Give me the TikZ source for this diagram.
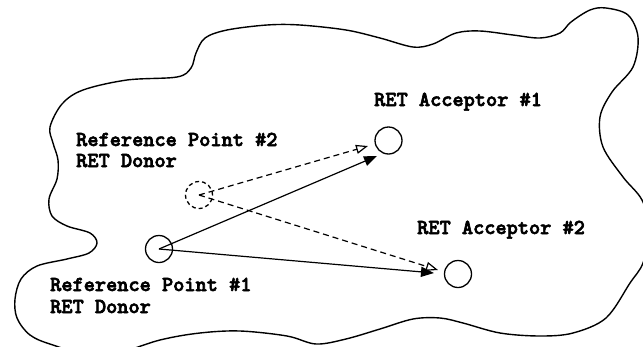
\documentclass[tikz,border=0pt]{standalone}
\usepackage{fontspec}
\newfontfamily\labelfont{lmmonolt10-bold.otf}[FakeBold=3]
\usetikzlibrary{arrows.meta}

\tikzset{
  site/.style={circle, draw, line width=1.3pt, minimum size=27pt, inner sep=0pt},
  ghost/.style={site, dash pattern=on 4pt off 3pt},
  lbl/.style={anchor=base west, inner sep=0pt, font=\labelfont\fontsize{21.3}{22}\selectfont},
  solidarrow/.style={line width=1.2pt, -{Triangle[length=13pt,width=10pt]}},
  dasharrow/.style={line width=1.2pt, dash pattern=on 6pt off 4pt, -{Triangle[open,length=12pt,width=9pt,line width=1.2pt]}},
  outline/.style={line width=1.4pt, line join=round}
}

\begin{document}
\begin{tikzpicture}[x=1pt,y=-1pt]
  \useasboundingbox (0,0) rectangle (643,346);
  \clip (0,0) rectangle (643,346);

  % wavy boundary of the region
  \draw[outline] plot[smooth cycle, tension=0.55] coordinates {
    (50,127) (62,104) (83,90) (127,80) (177,77) (191,68) (196,53) (205,38)
    (227,30) (267,25) (300,25) (346,30) (380,38) (413,47) (433,44)
    (456,33) (480,31) (513,35) (540,38) (560,33) (571,22) (590,10)
    (606,8) (628,15) (638,37) (633,67) (612,92) (600,117) (603,147)
    (623,177) (642,200) (650,230) (643,263) (630,283) (606,318)
    (573,333) (540,336) (500,333) (463,323) (440,318) (413,319)
    (380,329) (346,339) (316,344) (287,336) (240,331) (200,333)
    (160,340) (100,357) (53,345) (30,335) (17,318) (15,299) (21,279)
    (37,266) (67,259) (89,253) (97,243) (90,233) (67,226) (52,216)
    (49,199) (57,179) (58,160) (53,143)
  };

  % sites
  \node[site]  (ref1) at (159,249) {};
  \node[ghost] (ref2) at (199,195) {};
  \node[site]  (acc1) at (388.5,140.5) {};
  \node[site]  (acc2) at (458,274) {};

  % arrow end points just short of the acceptors
  \coordinate (t11) at (377,156);
  \coordinate (t12) at (434,273);
  \coordinate (t21) at (368,146);
  \coordinate (t22) at (438,270);

  \draw[solidarrow] (ref1.center) -- (t11);
  \draw[solidarrow] (ref1.center) -- (t12);
  \draw[dasharrow]  (ref2.center) -- (t21);
  \draw[dasharrow]  (ref2.center) -- (t22);

  % labels
  \node[lbl] (lref2a) at (76,146) {Reference Point \#2};
  \node[lbl] (lref2b) at (76,167) {RET Donor};
  \node[lbl] (lref1a) at (50,291) {Reference Point \#1};
  \node[lbl] (lref1b) at (50,313) {RET Donor};
  \node[lbl] (lacc1)  at (374,106) {RET Acceptor \#1};
  \node[lbl] (lacc2)  at (417,234) {RET Acceptor \#2};
\end{tikzpicture}
\end{document}
